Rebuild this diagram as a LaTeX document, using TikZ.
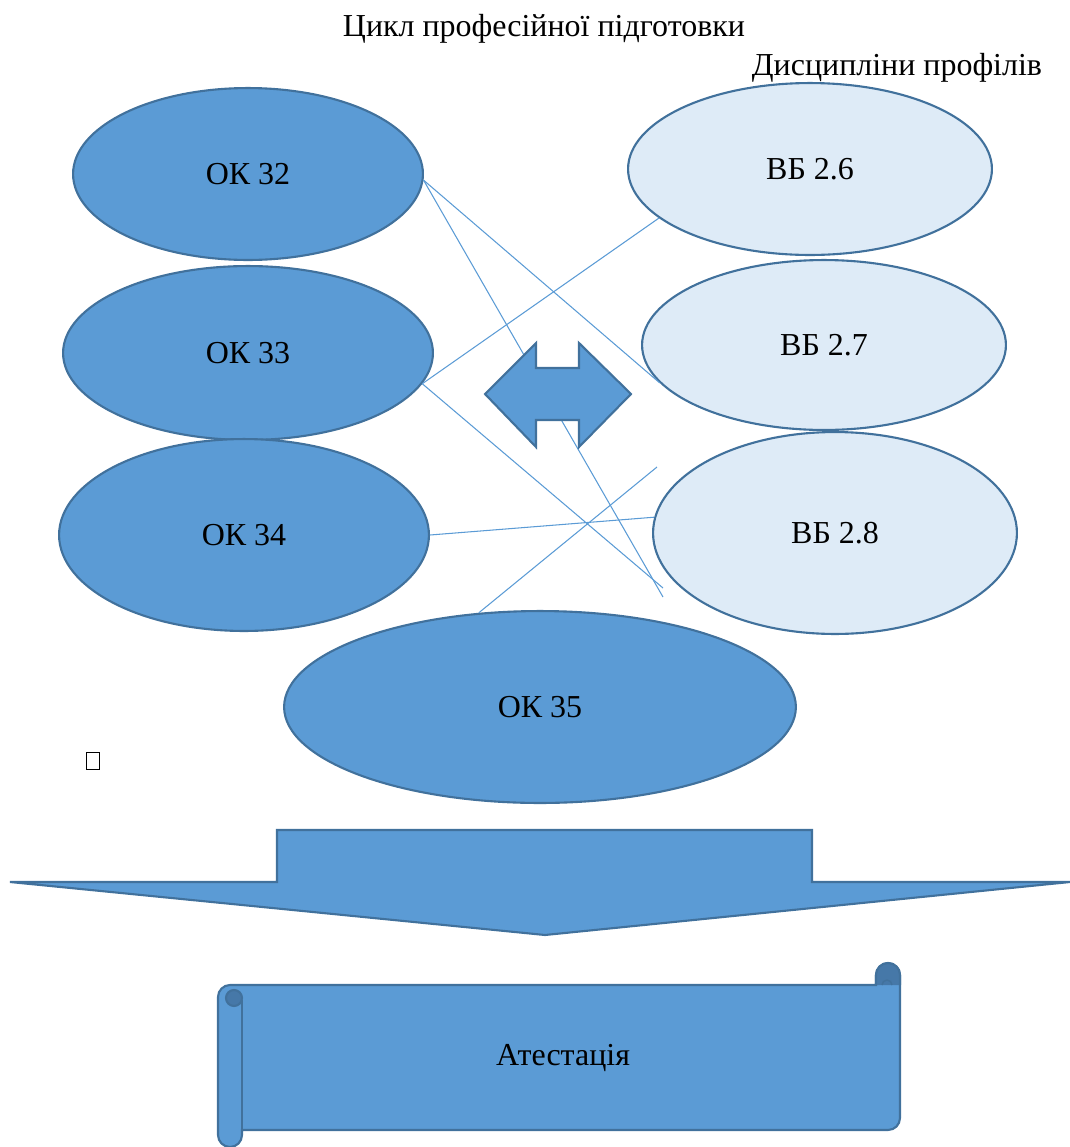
\documentclass[tikz,border=0pt]{standalone}
\usepackage{fontspec}
\setmainfont{Liberation Serif}
\usetikzlibrary{shapes.geometric}
\definecolor{okblue}{RGB}{91,155,213}
\definecolor{okedge}{RGB}{65,113,156}
\definecolor{vblight}{RGB}{222,235,247}
\definecolor{curl}{RGB}{70,120,168}

\begin{document}
\begin{tikzpicture}[x=0.02cm, y=-0.02cm,
  lbl/.style={font=\fontsize{18.2}{22}\selectfont},
  disc/.style={ellipse, draw=okedge, line width=1.2pt, inner sep=0pt, lbl},
  ok/.style={disc, fill=okblue},
  vb/.style={disc, fill=vblight},
  link/.style={draw=okblue, line width=0.6pt},
  block/.style={fill=okblue, draw=okedge, line width=1.2pt}]

\useasboundingbox (0,0) rectangle (1070,1147);

%%%%%%%%%%%% Headings
\node[lbl, anchor=base] (title) at (544,36) {Цикл професійної підготовки};
\node[lbl, anchor=base] (profiles) at (897,75) {Дисципліни профілів};

%%%%%%%%%%%% Disciplines
\foreach \n/\x/\y/\rx/\ry/\t in {ok32/248/174/175/86/ОК 32, ok33/248/353/185/87/ОК 33,
    ok34/244/535/185/96/ОК 34, ok35/540/707/256/96/ОК 35}
  \node[ok, minimum width=\rx*0.04cm, minimum height=\ry*0.04cm] (\n) at (\x,\y) {\t};

\foreach \n/\x/\y/\rx/\ry/\t in {vb26/810/169/182/86/ВБ 2.6, vb27/824/345/182/85/ВБ 2.7,
    vb28/835/533/182/101/ВБ 2.8}
  \node[vb, minimum width=\rx*0.04cm, minimum height=\ry*0.04cm] (\n) at (\x,\y) {\t};

%%%%%%%%%%%% Links
\coordinate (e1) at (663,597);
\coordinate (e2) at (663,588);
\coordinate (e3) at (657,467);
\draw[link] (ok32.-2) -- (e1);
\draw[link] (ok32.-2) -- (vb27.193);
\draw[link] (ok33.-10) -- (vb26.198);
\draw[link] (ok33.-10) -- (e2);
\draw[link] (ok34.east) -- (vb28.175);
\draw[link] (ok35.123) -- (e3);

% left-right arrow
\draw[block] (485,394) -- (536,343) -- (536,368) -- (579,368) -- (579,343) -- (631,394)
  -- (579,447) -- (579,420) -- (536,420) -- (536,447) -- cycle;

\node[draw, line width=0.6pt, inner sep=0pt, minimum width=0.25cm, minimum height=0.34cm]
  (glyph) at (93,761) {};

%%%%%%%%%%%% Down arrow
\draw[block] (277,830) -- (812,830) -- (812,882) -- (1070,882) -- (545,935) -- (10,882)
  -- (277,882) -- cycle;

%%%%%%%%%%%% Scroll
\draw[block] (218,997) arc[start angle=180, end angle=270, radius=12] -- (876,985)
  -- (876,975) arc[start angle=180, end angle=360, radius=12] -- (900,1118)
  arc[start angle=0, end angle=90, radius=12] -- (242,1130) -- (242,1135)
  arc[start angle=0, end angle=180, radius=12] -- cycle;
\draw[okedge, line width=1.2pt] (242,1000) -- (242,1130);
\draw[block, fill=curl] (234,998) circle[radius=8];
\draw[block, fill=curl] (876,985) -- (876,975) arc[start angle=180, end angle=360, radius=12]
  -- (900,985);
\draw[okedge, line width=0.8pt] (882,985) arc[start angle=180, end angle=360, radius=5];
\node[lbl] (atest) at (563,1058) {Атестація};

\end{tikzpicture}
\end{document}
